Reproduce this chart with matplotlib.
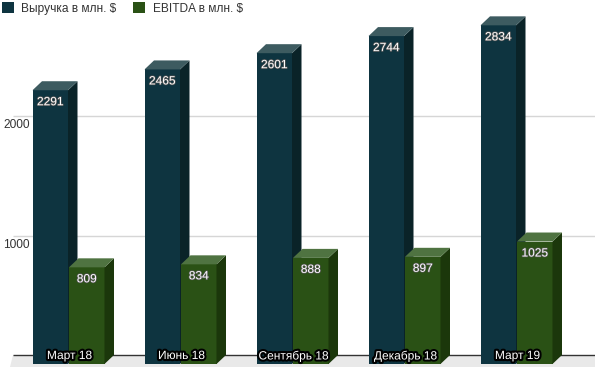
import matplotlib
matplotlib.use('Agg')
import matplotlib.pyplot as plt
from matplotlib.patches import Polygon
import matplotlib.patheffects as pe

categories = ['Март 18', 'Июнь 18', 'Сентябрь 18', 'Декабрь 18', 'Март 19']
revenue = [2291, 2465, 2601, 2744, 2834]
ebitda = [809, 834, 888, 897, 1025]
series_names = ['Выручка в млн. $', 'EBITDA в млн. $']
y_ticks = [1000, 2000]

plt.rcParams['font.family'] = ['Liberation Sans', 'DejaVu Sans']

W, H = 595, 367
fig = plt.figure(figsize=(W / 100, H / 100), dpi=100)
ax = fig.add_axes([0, 0, 1, 1])

PX_PER_CAT = 112.0
CAT0_PX = 68.5
PX_PER_VAL = 0.1195
ZERO_PX = 364.0
XMIN = -CAT0_PX / PX_PER_CAT
XMAX = (W - CAT0_PX) / PX_PER_CAT
YMIN = (ZERO_PX - H) / PX_PER_VAL
YMAX = ZERO_PX / PX_PER_VAL
ax.set_xlim(XMIN, XMAX)
ax.set_ylim(YMIN, YMAX)
ax.axis('off')

DX = 9.5 / PX_PER_CAT
DY = 9.0 / PX_PER_VAL
BW = 35.5 / PX_PER_CAT
GAP = 1.0 / PX_PER_CAT
XG = (13 - CAT0_PX) / PX_PER_CAT

# back wall grid + floor
ax.add_patch(Polygon([(XG, DY), (XMAX, DY), (XMAX, YMIN), (XG - 3 / PX_PER_CAT, YMIN)],
                     closed=True, facecolor='#e9e9e9', edgecolor='none', zorder=1))
ax.hlines([g + DY for g in y_ticks], XG, XMAX, colors='#d6d6d6', linewidth=1, zorder=1.5)
ax.hlines([DY], XG, XMAX, colors='#333333', linewidth=1, zorder=1.6)
for g in y_ticks:
    ax.annotate(str(g), (XMIN, g + DY), xytext=(3, -9), textcoords='offset pixels',
                ha='left', va='center', fontsize=8.6, color='#333333', zorder=2)

x_idx = list(range(len(categories)))


def bar3d(xc, values, front, side, top, z):
    bars = ax.bar(xc, values, BW, color=front, linewidth=0, zorder=z)
    for b in bars:
        x0 = b.get_x()
        x1 = x0 + b.get_width()
        v = b.get_height()
        ax.add_patch(Polygon([(x1, 0), (x1 + DX, DY), (x1 + DX, v + DY), (x1, v)],
                             closed=True, facecolor=side, edgecolor='none', zorder=z))
        ax.add_patch(Polygon([(x0, v), (x1, v), (x1 + DX, v + DY), (x0 + DX, v + DY)],
                             closed=True, facecolor=top, edgecolor='none', zorder=z))
        ax.annotate(f'{v:.0f}', (x0 + b.get_width() / 2, v), xytext=(0, -12),
                    textcoords='offset pixels', ha='center', va='center',
                    fontsize=8.6, color='white', zorder=z + 0.5,
                    path_effects=[pe.withStroke(linewidth=1.0, foreground='#555555')])
    return bars


b1 = bar3d([i - BW / 2 - GAP / 2 for i in x_idx], revenue, '#0e3440', '#0a2328', '#3d5b60', 3)
b2 = bar3d([i + BW / 2 + GAP / 2 for i in x_idx], ebitda, '#2a5115', '#1b370b', '#4f7341', 4)

for i, c in zip(x_idx, categories):
    ax.annotate(c, (i, 0), xytext=(1, 8), textcoords='offset pixels', ha='center', va='center',
                fontsize=8.6, color='white', zorder=6,
                path_effects=[pe.withStroke(linewidth=3.0, foreground='black')])

leg = ax.legend([b1, b2], series_names, loc='upper left', bbox_to_anchor=(0, 1), ncol=2,
                frameon=False, fontsize=8.6, handlelength=1.0, handleheight=1.0,
                handletextpad=0.6, columnspacing=1.4, borderaxespad=0, borderpad=0.2,
                labelcolor='#333333')

fig.savefig('out.png', dpi=100)
